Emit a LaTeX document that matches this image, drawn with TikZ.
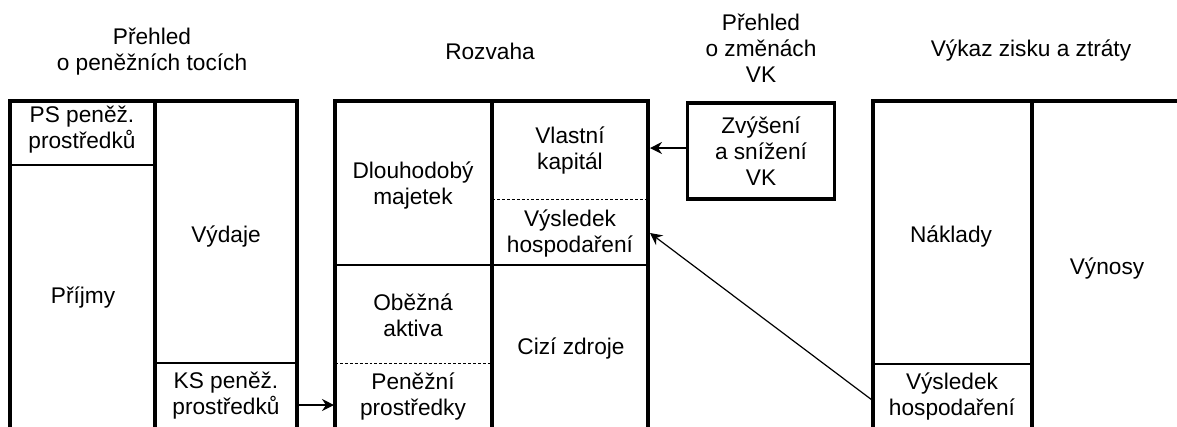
\documentclass[tikz,border=0pt]{standalone}
\usepackage{fontspec}
\setmainfont{Liberation Sans}
\usetikzlibrary{positioning, arrows.meta}
\tikzset{
txt/.style={align=center, inner sep=0pt, font=\fontsize{17}{19.5}\selectfont},
account/.style={line width=2.4pt, line join=miter},
split/.style={line width=1.6pt},
dotline/.style={dash pattern=on 2.2pt off 1.5pt, line width=0.6pt},
flow/.style={-{Stealth[length=9pt, width=9pt, inset=3pt]}, line width=0.9pt},
vkbox/.style={draw, line width=2.4pt, minimum width=110pt, minimum height=72pt, align=center, inner sep=0pt, font=\fontsize{17}{19.5}\selectfont},
}

\begin{document}
\begin{tikzpicture}[x=0.75pt, y=-0.75pt]
    \useasboundingbox (0,0) rectangle (1177,426);

    %titles
    \node[txt] (t1) at (152,52) {Přehled\\o peněžních tocích};
    \node[txt] (t2) at (490,51) {Rozvaha};
    \node[txt] (t3) at (761,48) {Přehled\\o změnách\\VK};
    \node[txt] (t4) at (1031,51) {Výkaz zisku a ztráty};

    %cash flow account
    \draw[account] (10,430)--(10,101)--(297,101)--(297,430);
    \draw[account] (155,101)--(155,430);
    \draw[split]   (10,165)--(155,165);
    \draw[split]   (155,363)--(297,363);
    \node[txt] (ps)  at (82,130)  {PS peněž.\\prostředků};
    \node[txt] (pri) at (83,297)  {Příjmy};
    \node[txt] (vyd) at (226,236) {Výdaje};
    \node[txt] (ks)  at (226,396) {KS peněž.\\prostředků};

    %balance sheet
    \draw[account] (335,430)--(335,101)--(648,101)--(648,430);
    \draw[account] (492,101)--(492,430);
    \draw[split]   (335,265)--(648,265);
    \draw[dotline] (492,199)--(648,199);
    \draw[dotline] (335,363)--(492,363);
    \node[txt] (dm)  at (413,185) {Dlouhodobý\\majetek};
    \node[txt] (oa)  at (413,315) {Oběžná\\aktiva};
    \node[txt] (pp)  at (413,396) {Peněžní\\prostředky};
    \node[txt] (vk)  at (570,150) {Vlastní\\kapitál};
    \node[txt] (vh)  at (570,233) {Výsledek\\hospodaření};
    \node[txt] (cz)  at (571,348) {Cizí zdroje};

    %equity changes
    \node[vkbox] (zvk) at (761,151) {Zvýšení\\a snížení\\VK};

    %income statement
    \draw[account] (873,430)--(873,101)--(1180,101);
    \draw[account] (1032,101)--(1032,430);
    \draw[split]   (873,364)--(1032,364);
    \node[txt] (nak) at (951,236)  {Náklady};
    \node[txt] (vyn) at (1107,268) {Výnosy};
    \node[txt] (vh2) at (952,396)  {Výsledek\\hospodaření};

    %arrows
    \coordinate (ksout) at (298,405);
    \coordinate (ppin)  at (334,405);
    \coordinate (vkin)  at (650,148);
    \coordinate (vhin)  at (650,233);
    \coordinate (vhout) at (872,400);
    \draw[flow] (ksout)--(ppin);
    \draw[flow] (zvk.west|-vkin)--(vkin);
    \draw[flow] (vhout)--(vhin);

\end{tikzpicture}
\end{document}
